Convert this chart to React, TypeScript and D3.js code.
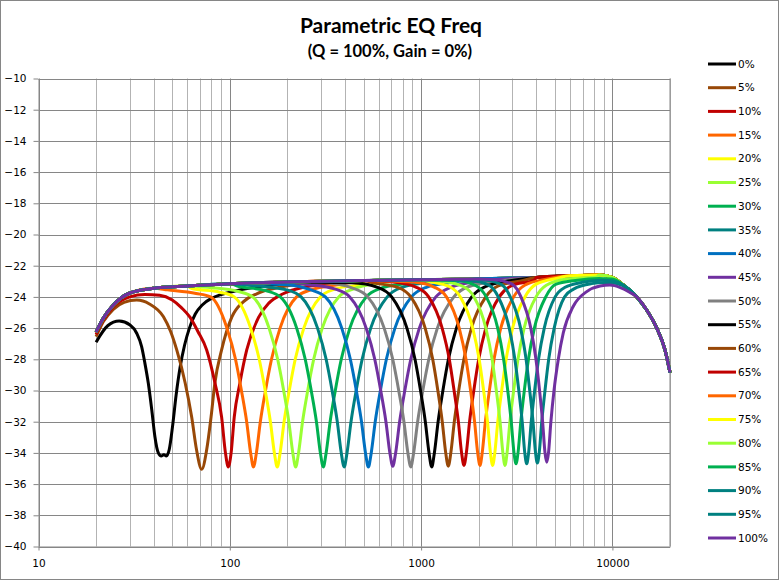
import React, { useEffect, useRef } from 'react';
import * as d3 from 'd3';

type Pt = [number, number];

// shared flat part of every curve (Hz, dB)
const baseline: Pt[] = [
  [20, -26.25], [21.8, -25.37], [24.6, -24.52], [30, -23.75], [40, -23.45], [60, -23.3],
  [100, -23.15], [200, -23.05], [500, -22.95], [1000, -22.9], [2000, -22.85], [4000, -22.75],
  [6000, -22.65], [8500, -22.6], [10000, -22.75], [11400, -23.24], [13400, -24.0],
  [15100, -24.84], [17050, -26.0], [18830, -27.4], [20000, -28.85],
];

// notch part of each series
const s00: Pt[] = [
  [20, -26.9], [23, -25.85], [26.4, -25.55], [30.1, -25.8], [32.6, -26.33], [34.6, -27.19],
  [36, -28.26], [37.5, -29.54], [39.1, -31.25], [40.6, -32.96], [42.3, -34.0], [43.8, -34.2],
  [45.2, -34.12], [46.6, -34.2], [48.2, -33.8], [50.2, -32.3], [52.4, -30.3], [55, -28.5],
  [58, -27.1], [61.5, -26.0], [66, -25.1], [72, -24.5], [80, -24.1], [90, -23.85],
  [100, -23.7], [150, -23.3], [200, -23.15],
];
const s05: Pt[] = [
  [20, -26.55], [21.8, -25.6], [24.6, -24.8], [28, -24.35], [32.6, -24.2], [38, -24.45],
  [45, -25.27], [49, -26.2], [52.8, -27.4], [58.4, -29.5], [63.2, -31.7], [67, -33.8],
  [71.3, -35.05], [75.7, -33.8], [79.8, -31.7], [83.6, -29.5], [90.6, -27.4], [102.4, -25.3],
  [118, -24.3], [138.3, -23.8], [180, -23.4], [250, -23.15],
];
const s10: Pt[] = [
  [20, -26.4], [21.8, -25.5], [24.6, -24.65], [30, -24.0], [36, -23.85], [43, -23.9],
  [50, -24.2], [56, -24.7], [61.9, -25.3], [68, -26.2], [75.7, -27.4], [83.6, -29.5],
  [90.6, -31.7], [94.9, -34], [98.2, -34.9], [101.6, -34], [105.5, -31.7], [113, -29.5],
  [122.6, -27.4], [141.6, -25.3], [160, -24.4], [190, -23.8], [250, -23.35], [350, -23.1],
];
const s15: Pt[] = [
  [47.2, -23.55], [66.6, -23.78], [79.3, -24], [96.6, -26], [107.1, -28], [115, -30],
  [122.5, -32], [128.5, -34], [133, -34.9], [137.7, -34], [144.4, -32], [153.7, -30],
  [165.2, -28], [183.1, -26], [223.3, -24], [265.3, -23.55], [374.8, -23.2],
];
const s20: Pt[] = [
  [62.8, -23.45], [88.7, -23.7], [105.5, -24], [128.5, -26], [142.5, -28], [153.1, -30],
  [163, -32], [171, -34], [177, -34.9], [183.2, -34], [192.2, -32], [204.6, -30],
  [219.8, -28], [243.7, -26], [297.2, -24], [353.1, -23.5], [498.8, -23.15],
];
const s25: Pt[] = [
  [78.5, -23.4], [110.7, -23.65], [131.7, -24], [160.4, -26], [177.9, -28], [191.2, -30],
  [203.5, -32], [213.5, -34], [221, -34.9], [228.7, -34], [240, -32], [255.5, -30],
  [274.5, -28], [304.3, -26], [371.1, -24], [440.9, -23.5], [622.8, -23.1],
];
const s30: Pt[] = [
  [109.3, -23.3], [154.3, -23.6], [183.6, -24], [223.6, -26], [247.9, -28], [266.4, -30],
  [283.7, -32], [297.5, -34], [308, -34.9], [318.8, -34], [334.5, -32], [356, -30],
  [382.5, -28], [424.1, -26], [517.1, -24], [614.5, -23.45], [868, -23.1],
];
const s35: Pt[] = [
  [140.6, -23.3], [198.4, -23.55], [236, -24], [287.5, -26], [318.8, -28], [342.5, -30],
  [364.7, -32], [382.5, -34], [396, -34.9], [409.9, -34], [430.1, -32], [457.8, -30],
  [491.8, -28], [545.3, -26], [664.9, -24], [790, -23.4], [1116, -23.05],
];
const s40: Pt[] = [
  [188.2, -23.2], [265.5, -23.55], [315.9, -24], [384.8, -26], [426.7, -28], [458.5, -30],
  [488.1, -32], [512, -34], [530, -34.9], [548.6, -34], [575.6, -32], [612.7, -30],
  [658.3, -28], [729.8, -26], [889.9, -24], [1057, -23.4], [1494, -23.05],
];
const s45: Pt[] = [
  [252.4, -23.2], [356.2, -23.5], [423.8, -24], [516.2, -26], [572.4, -28], [615, -30],
  [654.8, -32], [686.8, -34], [711, -34.85], [735.9, -34], [772.1, -32], [821.9, -30],
  [883.1, -28], [979, -26], [1194, -24], [1418, -23.4], [2004, -23.0],
];
const s50: Pt[] = [
  [313.5, -23.1], [442.4, -23.45], [526.3, -24], [641.1, -26], [710.8, -28], [763.8, -30],
  [813.2, -32], [853, -34], [883, -34.9], [913.9, -34], [959, -32], [1021, -30],
  [1097, -28], [1216, -26], [1483, -24], [1762, -23.35], [2488, -23.0],
];
const s55: Pt[] = [
  [434, -23.1], [597.5, -23.4], [702, -24], [842.9, -26], [929.2, -28], [992.9, -30],
  [1052, -32], [1100, -34], [1136, -34.9], [1173, -34], [1227, -32], [1300, -30],
  [1389, -28], [1530, -26], [1839, -24], [2160, -23.35], [2977, -22.95],
];
const s60: Pt[] = [
  [563.1, -23.1], [760.1, -23.4], [883.5, -24], [1050, -26], [1150, -28], [1223, -30],
  [1290, -32], [1345, -34], [1387, -34.85], [1430, -34], [1491, -32], [1573, -30],
  [1674, -28], [1832, -26], [2178, -24], [2530, -23.3], [3418, -22.95],
];
const s65: Pt[] = [
  [716.9, -23.05], [951.4, -23.4], [1095, -24], [1288, -26], [1404, -28], [1487, -30],
  [1566, -32], [1628, -34], [1675, -34.8], [1724, -34], [1792, -32], [1886, -30],
  [2000, -28], [2178, -26], [2561, -24], [2951, -23.3], [3918, -22.9],
];
const s70: Pt[] = [
  [905.8, -23.05], [1184, -23.4], [1357, -24], [1582, -26], [1716, -28], [1814, -30],
  [1903, -32], [1976, -34], [2031, -34.8], [2086, -34], [2167, -32], [2275, -30],
  [2405, -28], [2608, -26], [3042, -24], [3481, -23.25], [4558, -22.85],
];
const s75: Pt[] = [
  [1088, -23.0], [1410, -23.35], [1604, -24], [1862, -26], [2011, -28], [2122, -30],
  [2224, -32], [2304, -34], [2366, -34.8], [2428, -34], [2517, -32], [2638, -30],
  [2782, -28], [3007, -26], [3490, -24], [3973, -23.2], [5148, -22.8],
];
const s80: Pt[] = [
  [1301, -23.0], [1669, -23.35], [1891, -24], [2180, -26], [2350, -28], [2473, -30],
  [2586, -32], [2676, -34], [2745, -34.8], [2814, -34], [2912, -32], [3047, -30],
  [3209, -28], [3456, -26], [3986, -24], [4513, -23.25], [5789, -22.85], [8300, -22.72],
];
const s85: Pt[] = [
  [1533, -22.95], [1947, -23.3], [2191, -24], [2514, -26], [2699, -28], [2837, -30],
  [2959, -32], [3060, -34], [3135, -34.7], [3210, -34], [3320, -32], [3464, -30],
  [3640, -28], [3909, -26], [4483, -24], [5051, -23.2], [6408, -22.95], [8500, -22.82],
  [10000, -22.85],
];
const s90: Pt[] = [
  [1800, -22.95], [2260, -23.25], [2531, -24], [2888, -26], [3091, -28], [3241, -30],
  [3376, -32], [3483, -34], [3565, -34.7], [3647, -34], [3765, -32], [3922, -30],
  [4110, -28], [4403, -26], [5020, -24], [5626, -23.4], [7066, -23.05], [8800, -22.93],
  [10000, -22.97],
];
const s95: Pt[] = [
  [2112, -22.9], [2622, -23.2], [2926, -24], [3311, -26], [3538, -28], [3696, -30],
  [3846, -32], [3964, -34], [4053, -34.65], [4142, -34], [4272, -32], [4442, -30],
  [4645, -28], [4961, -26], [5617, -24], [6262, -23.5], [7786, -23.15], [9200, -23.08],
  [10500, -23.15], [12000, -23.45],
];
const s100: Pt[] = [
  [2437, -22.9], [3000, -23.2], [3326, -24], [3744, -26], [3984, -28], [4161, -30],
  [4316, -32], [4443, -34], [4538, -34.6], [4633, -34], [4769, -32], [4951, -30],
  [5214, -28], [5537, -26.3], [6246, -24.6], [7341, -23.66], [8616, -23.3], [9711, -23.24],
  [11000, -23.4], [12300, -23.7],
];

const seriesNames = [
  '0%', '5%', '10%', '15%', '20%', '25%', '30%', '35%', '40%', '45%', '50%',
  '55%', '60%', '65%', '70%', '75%', '80%', '85%', '90%', '95%', '100%',
];
const seriesNotches = [
  s00, s05, s10, s15, s20, s25, s30, s35, s40, s45, s50,
  s55, s60, s65, s70, s75, s80, s85, s90, s95, s100,
];
const seriesColors = [
  '#000000', '#984807', '#C00000', '#FF6600', '#FFFF00', '#99FF33', '#00B050', '#008080',
  '#0070C0', '#7030A0', '#808080', '#000000', '#984807', '#C00000', '#FF6600', '#FFFF00',
  '#99FF33', '#00B050', '#008080', '#008080', '#7030A0',
];
const yTicks = [-10, -12, -14, -16, -18, -20, -22, -24, -26, -28, -30, -32, -34, -36, -38, -40];
const xTicks = [10, 100, 1000, 10000];

function assemble(notch: Pt[]): Pt[] {
  const f0 = notch[0][0];
  const f1 = notch[notch.length - 1][0];
  return [
    ...baseline.filter((p) => p[0] < f0),
    ...notch,
    ...baseline.filter((p) => p[0] > f1),
  ];
}

const App: React.FC = () => {
  const svgRef = useRef<SVGSVGElement | null>(null);

  useEffect(() => {
    if (!svgRef.current) return;
    const svg = d3.select(svgRef.current);
    svg.selectAll('*').remove();

    const left = 38.5;
    const right = 670;
    const top = 78.5;
    const bottom = 546.5;
    const tickFont = '"DejaVu Sans", Verdana, sans-serif';
    const titleFont = 'Lato, "Open Sans", sans-serif';

    const x = d3.scaleLog().domain([10, 20000]).range([left, right]);
    const y = d3.scaleLinear().domain([-40, -10]).range([bottom, top]);

    svg.append('rect')
      .attr('x', 0.5).attr('y', 0.5).attr('width', 778).attr('height', 579)
      .attr('fill', '#fff').attr('stroke', '#868686');

    // vertical grid (minor lighter, decades darker)
    const grid = svg.append('g');
    x.ticks().forEach((v) => {
      const major = Math.abs(Math.log10(v) - Math.round(Math.log10(v))) < 1e-9;
      grid.append('line')
        .attr('x1', Math.round(x(v)) + 0.5).attr('x2', Math.round(x(v)) + 0.5)
        .attr('y1', top).attr('y2', bottom)
        .attr('stroke', major ? '#868686' : '#b3b3b3');
    });
    grid.append('line')
      .attr('x1', right).attr('x2', right).attr('y1', top).attr('y2', bottom)
      .attr('stroke', '#868686');
    yTicks.forEach((v) => {
      grid.append('line')
        .attr('x1', left).attr('x2', right)
        .attr('y1', Math.round(y(v)) + 0.5).attr('y2', Math.round(y(v)) + 0.5)
        .attr('stroke', '#868686');
    });

    const yAxis = svg.append('g')
      .attr('transform', `translate(${left},0)`)
      .call(d3.axisLeft(y).tickValues(yTicks).tickSize(5).tickSizeOuter(0).tickPadding(7));
    const xAxis = svg.append('g')
      .attr('transform', `translate(0,${bottom})`)
      .call(d3.axisBottom(x).tickValues(xTicks).tickFormat(d3.format('d')).tickSize(4).tickSizeOuter(0).tickPadding(9));
    [yAxis, xAxis].forEach((g) => {
      g.selectAll('path, line').attr('stroke', '#868686');
      g.selectAll('text').attr('fill', '#000').style('font-family', tickFont).style('font-size', '10.5px');
    });

    const line = d3.line<Pt>()
      .x((d) => x(d[0]))
      .y((d) => y(d[1]))
      .curve(d3.curveMonotoneX);

    svg.append('g')
      .selectAll('path')
      .data(seriesNotches.map(assemble))
      .enter()
      .append('path')
      .attr('d', (d) => line(d) || '')
      .attr('fill', 'none')
      .attr('stroke', (_, i) => seriesColors[i])
      .attr('stroke-width', 3)
      .attr('stroke-linejoin', 'round');

    // legend
    const legend = svg.append('g');
    seriesNames.forEach((name, i) => {
      const ly = 64 + i * 23.7;
      legend.append('line')
        .attr('x1', 708).attr('x2', 736).attr('y1', ly).attr('y2', ly)
        .attr('stroke', seriesColors[i]).attr('stroke-width', 3);
      legend.append('text')
        .attr('x', 738).attr('y', ly).attr('dy', '0.35em')
        .style('font-family', tickFont).style('font-size', '10.5px')
        .text(name);
    });

    svg.append('text')
      .attr('x', 391).attr('y', 33)
      .attr('text-anchor', 'middle')
      .style('font-family', titleFont)
      .style('font-weight', 'bold').style('font-size', '21px')
      .text('Parametric EQ Freq');
    svg.append('text')
      .attr('x', 390).attr('y', 56.5)
      .attr('text-anchor', 'middle')
      .style('font-family', titleFont)
      .style('font-weight', 'bold').style('font-size', '16.5px')
      .text('(Q = 100%, Gain = 0%)');
  }, []);

  return (
    <svg
      ref={svgRef}
      width={781}
      height={581}
      style={{ position: 'absolute', left: 0, top: 0, display: 'block' }}
    />
  );
};

export default App;
